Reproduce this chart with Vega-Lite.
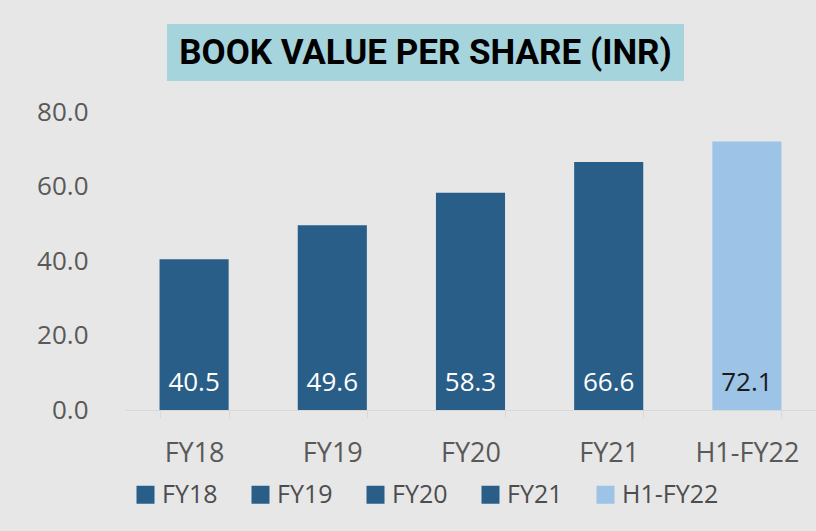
{
  "$schema": "https://vega.github.io/schema/vega-lite/v6.json",
  "background": "#e7e7e7",
  "padding": {"left": 36, "top": 24, "right": 0, "bottom": 80},
  "config": {"view": {"stroke": null}, "font": "Open Sans"},
  "spacing": 18,
  "vconcat": [
    {
      "spacing": 0,
      "hconcat": [
        {
          "width": 42,
          "height": 57,
          "view": {"fill": "#e7e7e7", "stroke": null},
          "data": {"values": []},
          "mark": {"type": "text"},
          "encoding": {}
        },
        {
          "width": 517,
          "height": 57,
          "view": {"fill": "#a6d4dd", "stroke": null},
          "data": {"values": [{"t": "BOOK VALUE PER SHARE (INR)"}]},
          "mark": {"type": "text", "font": "Roboto", "fontWeight": "bold", "fontSize": 35, "color": "#000000", "baseline": "middle", "align": "center", "dy": 0},
          "encoding": {"text": {"field": "t"}}
        }
      ]
    },
    {
      "width": 691,
      "height": 298,
      "data": {"values": [
        {"period": "FY18", "value": 40.5},
        {"period": "FY19", "value": 49.6},
        {"period": "FY20", "value": 58.3},
        {"period": "FY21", "value": 66.6},
        {"period": "H1-FY22", "value": 72.1}
      ]},
      "encoding": {
        "x": {
          "field": "period", "type": "nominal", "sort": null,
          "scale": {"paddingInner": 0.5, "paddingOuter": 0.25},
          "axis": {"title": null, "labelAngle": 0, "labelFontSize": 27, "labelColor": "#595959", "labelPadding": 22, "tickSize": 8, "tickColor": "#d9d9d9", "domainColor": "#d9d9d9", "tickBand": "extent", "zindex": 1}
        }
      },
      "layer": [
        {
          "mark": {"type": "bar"},
          "encoding": {
            "y": {
              "field": "value", "type": "quantitative",
              "scale": {"domain": [0, 80], "nice": false},
              "axis": {"title": null, "values": [0, 20, 40, 60, 80], "format": ".1f", "labelFontSize": 26, "labelColor": "#595959", "labelPadding": 37, "ticks": false, "domain": false, "grid": false, "zindex": 1}
            },
            "color": {
              "field": "period", "type": "nominal", "sort": null,
              "scale": {"domain": ["FY18", "FY19", "FY20", "FY21", "H1-FY22"], "range": ["#285e87", "#285e87", "#285e87", "#285e87", "#9dc3e6"]},
              "legend": {"title": null, "orient": "none", "legendX": 8, "legendY": 458, "direction": "horizontal", "symbolType": "square", "symbolSize": 324, "symbolStrokeWidth": 0, "labelFontSize": 25, "labelColor": "#4d4d4d", "labelOffset": 4, "columnPadding": 30}
            }
          }
        },
        {
          "mark": {"type": "text", "fontSize": 26, "baseline": "alphabetic", "align": "center", "dy": -19},
          "encoding": {
            "y": {"datum": 0, "type": "quantitative"},
            "text": {"field": "value", "type": "quantitative", "format": ".1f"},
            "color": {"condition": {"test": "datum.period === 'H1-FY22'", "value": "#1a1a1a"}, "value": "#ffffff"}
          }
        }
      ]
    }
  ]
}
